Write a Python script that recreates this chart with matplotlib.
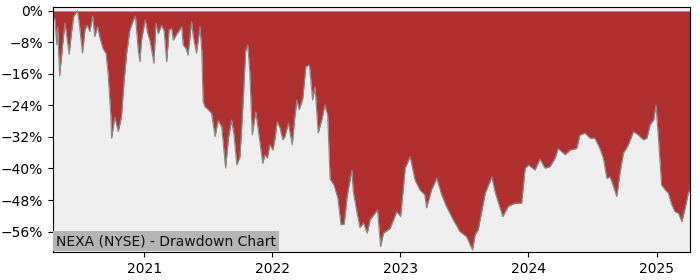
"""
NEXA (NYSE) drawdown chart
"""
import matplotlib
matplotlib.use('Agg')
import matplotlib.pyplot as plt
import matplotlib.dates as mdates
from matplotlib.ticker import PercentFormatter
import pandas as pd

# Drawdown from running peak (%)
dates = [
    '2020-04-16', '2020-04-21', '2020-04-27', '2020-04-29', '2020-05-05', '2020-05-10',
    '2020-05-20', '2020-05-24', '2020-06-01', '2020-06-08', '2020-06-14', '2020-06-25',
    '2020-07-01', '2020-07-09', '2020-07-16', '2020-07-22', '2020-07-30', '2020-08-07',
    '2020-08-13', '2020-08-21', '2020-08-28', '2020-09-06', '2020-09-14', '2020-09-20',
    '2020-09-28', '2020-09-30', '2020-10-09', '2020-10-19', '2020-10-28', '2020-11-04',
    '2020-11-12', '2020-11-21', '2020-12-01', '2020-12-07', '2020-12-15', '2020-12-20',
    '2020-12-24',
    '2021-01-04', '2021-01-11', '2021-01-17', '2021-01-29', '2021-02-03', '2021-02-10',
    '2021-02-20', '2021-02-27', '2021-03-06', '2021-03-13', '2021-03-20', '2021-03-25',
    '2021-04-03', '2021-04-18', '2021-04-22', '2021-04-30', '2021-05-06', '2021-05-16',
    '2021-05-21', '2021-05-30', '2021-06-09', '2021-06-14', '2021-06-18', '2021-06-23',
    '2021-07-02', '2021-07-12', '2021-07-22', '2021-07-31', '2021-08-10', '2021-08-21',
    '2021-08-29', '2021-09-07', '2021-09-14', '2021-09-22', '2021-10-01', '2021-10-09',
    '2021-10-17', '2021-10-23', '2021-10-29', '2021-11-05', '2021-11-15', '2021-11-24',
    '2021-12-05', '2021-12-11', '2021-12-18', '2021-12-25',
    '2022-01-03', '2022-01-09', '2022-01-15', '2022-01-23', '2022-01-31', '2022-02-06',
    '2022-02-16', '2022-02-27', '2022-03-05', '2022-03-12', '2022-03-19', '2022-03-29',
    '2022-04-07', '2022-04-17', '2022-04-26', '2022-05-03', '2022-05-12', '2022-05-22',
    '2022-05-31', '2022-06-08', '2022-06-15', '2022-06-26', '2022-07-07', '2022-07-16',
    '2022-07-25', '2022-08-03', '2022-08-16', '2022-08-20', '2022-08-30', '2022-09-08',
    '2022-09-18', '2022-09-29', '2022-10-07', '2022-10-28', '2022-11-06', '2022-11-14',
    '2022-12-03', '2022-12-22',
    '2023-01-02', '2023-01-15', '2023-01-29', '2023-02-12', '2023-02-26', '2023-03-12',
    '2023-03-17', '2023-03-31', '2023-04-15', '2023-04-29', '2023-05-13', '2023-06-01',
    '2023-06-20', '2023-07-09', '2023-07-26', '2023-08-02', '2023-08-11', '2023-08-31',
    '2023-09-19', '2023-09-28', '2023-10-20', '2023-11-05', '2023-11-24', '2023-12-13',
    '2023-12-23',
    '2024-01-02', '2024-01-20', '2024-02-03', '2024-02-18', '2024-03-03', '2024-03-17',
    '2024-03-26', '2024-04-15', '2024-04-29', '2024-05-18', '2024-05-27', '2024-06-11',
    '2024-06-25', '2024-07-09', '2024-07-23', '2024-08-02', '2024-08-12', '2024-08-21',
    '2024-08-31', '2024-09-09', '2024-09-19', '2024-09-28', '2024-10-12', '2024-10-27',
    '2024-11-10', '2024-11-24', '2024-12-04', '2024-12-13', '2024-12-23', '2024-12-30',
    '2025-01-06', '2025-01-15', '2025-01-25', '2025-02-03', '2025-02-13', '2025-02-22',
    '2025-03-04', '2025-03-14', '2025-03-23', '2025-04-01', '2025-04-06',
]
drawdown = [
    -1.5, -1.9, -8.6, -4.0, -16.5, -11.6,
    -3.0, -5.7, -11.0, -5.2, -1.3, 0.0,
    -4.0, -10.7, -4.8, -3.6, -5.2, -1.3,
    -6.5, -4.0, -6.9, -9.7, -10.7, -15.8,
    -26.8, -32.3, -27.0, -30.6, -27.0, -18.4,
    -10.7, -4.8, -2.3, -1.3, -9.9, -12.9,
    -7.4,
    -2.3, -5.7, -7.4, -13.3, -3.1, -5.7,
    -3.6, -5.2, -12.9, -4.8, -4.4, -7.4,
    -6.0, -4.0, -8.6, -9.5, -11.2, -2.7,
    -6.5, -10.7, -4.0, -10.0, -23.0, -24.3,
    -25.0, -26.0, -31.9, -27.7, -29.5, -39.9,
    -32.3, -27.7, -31.5, -39.1, -37.0, -24.7,
    -10.3, -8.6, -15.4, -31.5, -25.6, -31.5,
    -38.7, -36.5, -37.4, -34.0,
    -35.3, -32.3, -28.1, -29.7, -32.7, -31.9,
    -28.5, -34.0, -28.1, -22.6, -25.1, -22.2,
    -14.1, -13.7, -22.6, -19.2, -31.0, -27.7,
    -23.9, -26.4, -42.7, -44.2, -47.5, -54.3,
    -54.1, -46.7, -40.4, -45.9, -50.9, -55.0,
    -53.8, -56.4, -53.0, -50.5, -59.8, -56.4,
    -55.2, -50.9,
    -52.2, -39.9, -37.0, -42.9, -45.4, -46.7,
    -50.0, -45.4, -42.5, -46.7, -49.7, -53.0,
    -56.0, -57.3, -60.7, -56.9, -55.6, -46.3,
    -42.1, -45.9, -52.2, -49.6, -48.8, -48.8,
    -39.9,
    -39.1, -40.4, -37.6, -39.9, -39.5, -37.4,
    -34.9, -36.5, -35.3, -34.9, -31.5, -31.0,
    -32.3, -32.3, -34.9, -37.4, -42.5, -42.1,
    -44.6, -47.1, -40.8, -36.1, -34.0, -30.6,
    -31.5, -32.7, -32.3, -28.9, -27.7, -23.9,
    -32.3, -44.2, -45.4, -46.2, -49.2, -50.9,
    -51.4, -53.5, -50.0, -46.3, -45.5,
]
yticks = [0, -8, -16, -24, -32, -40, -48, -56]

dt = pd.to_datetime(dates)

fig = plt.figure(figsize=(7, 2.8), dpi=100)
ax = fig.add_axes([0.0757, 0.1, 0.91, 0.875])
ax.set_facecolor('#eeeeee')

ax.fill_between(dt, drawdown, 0, color='#b03030', lw=0)
ax.plot(dt, drawdown, color='#888888', lw=0.8)

ax.set_xlim(dt[0], dt[-1])
ax.set_ylim(-61.2, 1.0)
ax.set_yticks(yticks)
ax.yaxis.set_major_formatter(PercentFormatter(xmax=100, decimals=0))
ax.xaxis.set_major_locator(mdates.YearLocator())
ax.xaxis.set_major_formatter(mdates.DateFormatter('%Y'))
ax.tick_params(labelsize=10)

ax.text(0.005, 0.016, 'NEXA (NYSE) - Drawdown Chart', transform=ax.transAxes,
        fontsize=10, color='#111111', ha='left', va='bottom',
        bbox=dict(boxstyle='square,pad=0.2', fc='#b4b4b4', ec='none'))

plt.savefig('out.png', dpi=100, facecolor='white')
plt.close()
